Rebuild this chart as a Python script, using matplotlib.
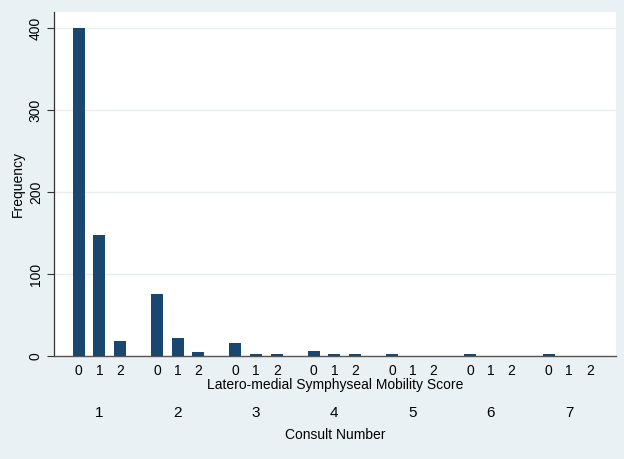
import matplotlib
matplotlib.use("Agg")
import matplotlib.pyplot as plt
import matplotlib.transforms as mtransforms

# Data
consults = ["1", "2", "3", "4", "5", "6", "7"]
scores = ["0", "1", "2"]
freq_score0 = [400, 75, 16, 6, 2, 2, 2]
freq_score1 = [148, 22, 2, 2, 0, 0, 0]
freq_score2 = [18, 5, 2, 2, 0, 0, 0]
y_ticks = [0, 100, 200, 300, 400]

plt.rcParams['font.family'] = ['Liberation Sans', 'DejaVu Sans']

bg = '#EAF1F4'
bar_color = '#1A476F'
grid_color = '#E8EEEF'

fig = plt.figure(figsize=(6.24, 4.59), dpi=100, facecolor=bg)
ax = fig.add_axes([54/624, 1-356/459, (616-54)/624, (356-12)/459])
ax.set_facecolor('white')

period = 3.784
width = 0.58
series = [freq_score0, freq_score1, freq_score2]
xs_all, labels_all = [], []
for b, vals in enumerate(series):
    xs = [g*period + b for g in range(len(consults))]
    ax.bar(xs, vals, width=width, color=bar_color, edgecolor='none', zorder=3)
    xs_all += xs
    labels_all += [scores[b]]*len(xs)

ax.set_xlim(-1.19, 25.96)
ax.set_ylim(0, 419.5)

ax.set_xticks(xs_all)
ax.set_xticklabels(labels_all, fontsize=10)
ax.tick_params(axis='x', length=0, pad=6)

ax.set_yticks(y_ticks)
ax.set_yticklabels([str(v) for v in y_ticks], rotation=90, va='center', fontsize=10)
ax.tick_params(axis='y', length=5, width=0.8, color='#333333', pad=3)
ax.yaxis.grid(True, color=grid_color, linewidth=1.0, zorder=0)
ax.set_axisbelow(True)

for s in ['top', 'right']:
    ax.spines[s].set_visible(False)
ax.spines['left'].set_color('#333333')
ax.spines['left'].set_linewidth(0.9)
ax.spines['bottom'].set_color('#555555')
ax.spines['bottom'].set_linewidth(1.0)

trans = mtransforms.blended_transform_factory(ax.transData, fig.transFigure)
for g, c in enumerate(consults):
    ax.text(g*period + 1, 1-413/459, c, transform=trans, ha='center', va='center', fontsize=11)

fig.text(335/624, 1-385/459, 'Latero-medial Symphyseal Mobility Score', ha='center', va='center', fontsize=10)
fig.text(335/624, 1-435/459, 'Consult Number', ha='center', va='center', fontsize=10)
fig.text(18/624, 1-184/459, 'Frequency', ha='center', va='center', rotation=90, fontsize=10)

fig.savefig('out.png', dpi=100, facecolor=bg)
